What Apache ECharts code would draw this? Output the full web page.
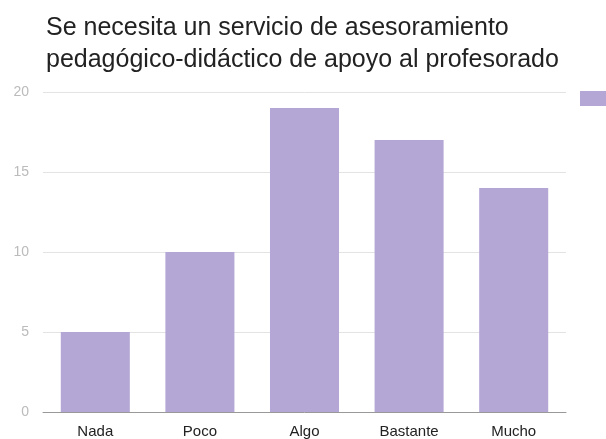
<!DOCTYPE html>
<html>
<head>
<meta charset="utf-8">
<script src="https://cdn.jsdelivr.net/npm/echarts@6/dist/echarts.min.js"></script>
<style>
  html, body { margin: 0; padding: 0; background: #fff; }
  #chart { width: 606px; height: 439px; }
</style>
</head>
<body>
<div id="chart"></div>
<script>
const categories = ['Nada', 'Poco', 'Algo', 'Bastante', 'Mucho'];
const values = [5, 10, 19, 17, 14];
const yTicks = { min: 0, max: 20, interval: 5 };

const chart = echarts.init(document.getElementById('chart'));
chart.setOption({
  animation: false,
  textStyle: { fontFamily: 'Arial, "Liberation Sans", sans-serif' },
  title: {
    text: 'Se necesita un servicio de asesoramiento\npedagógico-didáctico de apoyo al profesorado',
    left: 41,
    top: 7,
    textStyle: { fontSize: 25, fontWeight: 'normal', color: '#222', lineHeight: 32 }
  },
  legend: {
    left: 575,
    top: 86,
    itemWidth: 30,
    itemHeight: 15,
    icon: 'rect',
    formatter: () => '',
    data: ['Respuestas']
  },
  grid: { left: 43, right: 40, top: 92, bottom: 27 },
  xAxis: {
    type: 'category',
    data: categories,
    axisLine: { lineStyle: { color: '#999' } },
    axisTick: { show: false },
    axisLabel: { color: '#222', fontSize: 15, margin: 12 }
  },
  yAxis: {
    type: 'value',
    min: yTicks.min,
    max: yTicks.max,
    interval: yTicks.interval,
    axisLine: { show: false },
    axisTick: { show: false },
    axisLabel: { color: '#bbb', fontSize: 14, margin: 14 },
    splitLine: { lineStyle: { color: '#e3e3e3' } }
  },
  series: [{
    name: 'Respuestas',
    type: 'bar',
    data: values,
    barCategoryGap: '34%',
    itemStyle: { color: '#b4a7d6' }
  }]
});
</script>
</body>
</html>
